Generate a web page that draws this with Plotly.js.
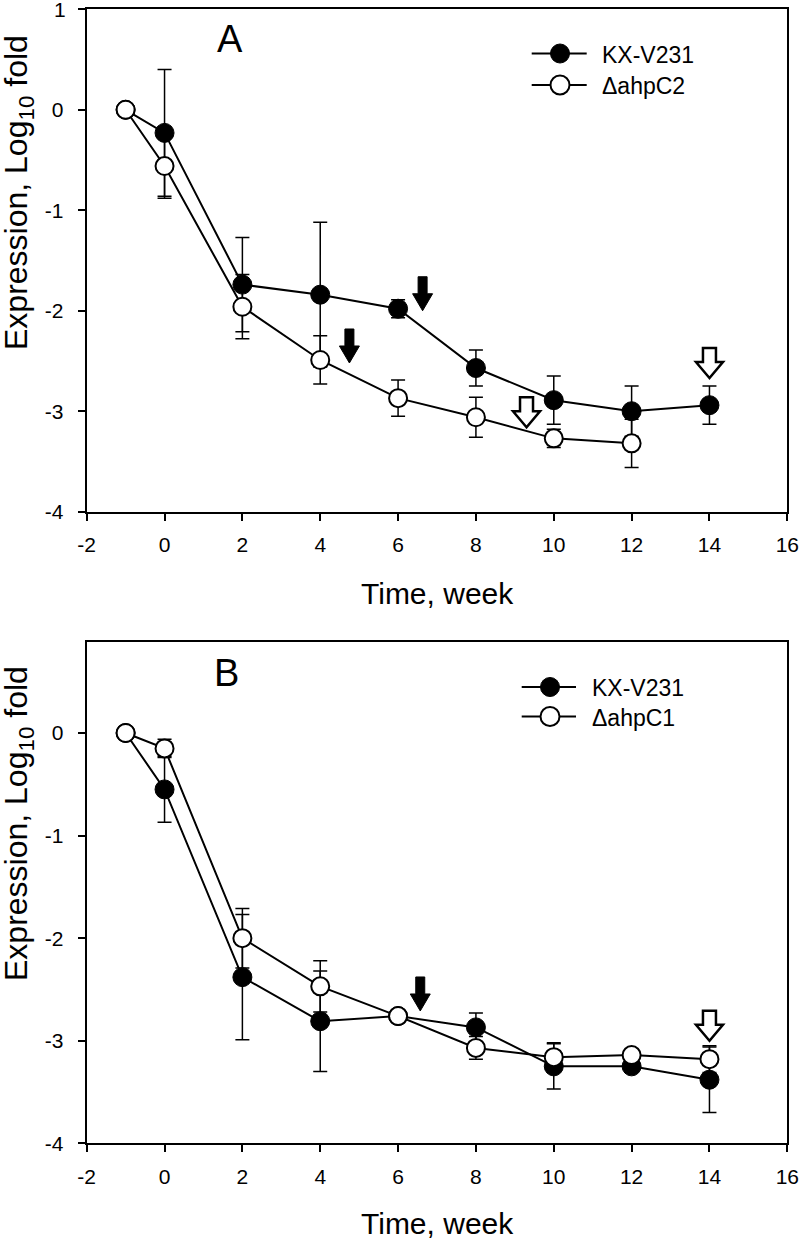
<!DOCTYPE html>
<html>
<head>
<meta charset="utf-8">
<script src="https://cdn.plot.ly/plotly-3.0.1.min.js"></script>
<style>html,body{margin:0;padding:0;background:#fff;}#chart{width:800px;height:1239px;}</style>
</head>
<body>
<div id="chart"></div>
<script>
// ---- data ----
const weeks = [-1, 0, 2, 4, 6, 8, 10, 12, 14];
const weeksA2 = [-1, 0, 2, 4, 6, 8, 10, 12];

const seriesA1Name = 'KX-V231';
const seriesA1 = [0, -0.23, -1.74, -1.84, -1.98, -2.57, -2.89, -3.00, -2.94];
const seriesA1Err = [0, 0.63, 0.47, 0.72, 0.09, 0.18, 0.24, 0.25, 0.19];

const seriesA2Name = '\u0394ahpC2';
const seriesA2 = [0, -0.56, -1.96, -2.49, -2.87, -3.06, -3.27, -3.32];
const seriesA2Err = [0, 0.32, 0.32, 0.24, 0.18, 0.20, 0.09, 0.24];

const seriesB1Name = 'KX-V231';
const seriesB1 = [0, -0.55, -2.38, -2.81, -2.76, -2.87, -3.25, -3.25, -3.38];
const seriesB1Err = [0, 0.32, 0.61, 0.49, 0, 0.14, 0.22, 0, 0.32];

const seriesB2Name = '\u0394ahpC1';
const seriesB2 = [0, -0.15, -2.00, -2.47, -2.76, -3.07, -3.16, -3.14, -3.18];
const seriesB2Err = [0, 0.09, 0.29, 0.25, 0, 0.11, 0.14, 0.03, 0.13];

// arrows: panel, x, tip y, style
const arrowPanel = ['A', 'A', 'A', 'A', 'B', 'B'];
const arrowX = [6.63, 4.75, 9.3, 14.0, 6.57, 14.0];
const arrowTipY = [-2.0, -2.52, -3.16, -2.67, -2.71, -3.0];
const arrowKind = ['solid', 'solid', 'hollow', 'hollow', 'solid', 'hollow'];

const panelLabels = ['A', 'B'];

const xTickVals = [-2, 0, 2, 4, 6, 8, 10, 12, 14, 16];
const xTickText = ['-2', '0', '2', '4', '6', '8', '10', '12', '14', '16'];
const yTickValsA = [-4, -3, -2, -1, 0, 1];
const yTickTextA = ['-4', '-3', '-2', '-1', '0', '1'];
const yTickValsB = [-4, -3, -2, -1, 0];
const yTickTextB = ['-4', '-3', '-2', '-1', '0'];

const xTitle = 'Time, week';
const yTitle = 'Expression, Log<sub>10</sub> fold';

// ---- styling ----
const FONT = 'Arial, Liberation Sans, sans-serif';
const W = 800, H = 1239;
const px = v => v / W;
const py = v => 1 - v / H;

function series(x, y, err, name, filled, xa, ya) {
  return {
    type: 'scatter', mode: 'lines+markers', x: x, y: y, name: name,
    xaxis: xa, yaxis: ya, showlegend: false,
    line: {color: '#000', width: 2},
    marker: {size: filled ? 19 : 18, color: filled ? '#000' : '#fff', line: {color: '#000', width: filled ? 1 : 2}},
    error_y: {type: 'data', array: err, symmetric: true, color: '#000', thickness: 1.5, width: 7}
  };
}

const traces = [
  series(weeks, seriesA1, seriesA1Err, seriesA1Name, true, 'x', 'y'),
  series(weeksA2, seriesA2, seriesA2Err, seriesA2Name, false, 'x', 'y'),
  series(weeks, seriesB1, seriesB1Err, seriesB1Name, true, 'x2', 'y2'),
  series(weeks, seriesB2, seriesB2Err, seriesB2Name, false, 'x2', 'y2')
];

const TICK_SIZE = 21;
const tickFont = {family: FONT, size: TICK_SIZE, color: '#000'};

function xAxis(anchor) {
  return {
    domain: [px(86.7), px(787.3)], range: [-2, 16], anchor: anchor,
    tickmode: 'array', tickvals: xTickVals, ticktext: xTickText,
    showline: true, mirror: true, linewidth: 2, linecolor: '#000',
    ticks: 'outside', ticklen: 7, tickwidth: 2, tickcolor: '#000',
    showgrid: false, zeroline: false,
    tickfont: tickFont, ticklabelstandoff: 6
  };
}
function yAxis(domain, range, tv, tt, anchor) {
  return {
    domain: domain, range: range, anchor: anchor,
    tickmode: 'array', tickvals: tv, ticktext: tt,
    showline: true, mirror: true, linewidth: 2, linecolor: '#000',
    ticks: 'outside', ticklen: 7, tickwidth: 2, tickcolor: '#000',
    showgrid: false, zeroline: false,
    tickfont: tickFont, ticklabelstandoff: 10
  };
}

const solidPath = 'M0,0 L-10,17 L-4.5,17 L-4.5,34 L4.5,34 L4.5,17 L10,17 Z';
const hollowPath = 'M0,0 L-13.5,16 L-6.5,16 L-6.5,30 L6.5,30 L6.5,16 L13.5,16 Z';

const shapes = arrowX.map((x, i) => ({
  type: 'path', layer: 'above',
  xref: arrowPanel[i] === 'A' ? 'x' : 'x2', yref: arrowPanel[i] === 'A' ? 'y' : 'y2',
  xsizemode: 'pixel', ysizemode: 'pixel', xanchor: x, yanchor: arrowTipY[i],
  path: arrowKind[i] === 'solid' ? solidPath : hollowPath,
  fillcolor: arrowKind[i] === 'solid' ? '#000' : '#fff',
  line: {color: '#000', width: arrowKind[i] === 'solid' ? 1 : 2.5}
}));

function ann(text, xref, yref, x, y, size, angle, xanchor) {
  return {text: text, xref: xref, yref: yref, x: x, y: y, xanchor: xanchor || 'center', yanchor: 'middle',
          textangle: angle || 0, showarrow: false, font: {family: FONT, size: size, color: '#000'}};
}

const annotations = [
  ann(panelLabels[0], 'x', 'y', 1.68, 0.70, 38),
  ann(panelLabels[1], 'x2', 'y2', 1.6, 0.58, 38),
  ann(xTitle, 'paper', 'paper', px(437), py(593), 30),
  ann(xTitle, 'paper', 'paper', px(437), py(1223), 30),
  ann(yTitle, 'paper', 'paper', px(19), py(193), 32, -90),
  ann(yTitle, 'paper', 'paper', px(19), py(824), 32, -90),
  // top tick label of panel A (Plotly hides labels that overflow the page edge)
  ann(yTickTextA[yTickTextA.length - 1], 'paper', 'y', px(68), yTickValsA[yTickValsA.length - 1], TICK_SIZE, 0, 'right')
];

// ---- legends (drawn with shapes + text) ----
const legendEntries = [
  {name: seriesA1Name, filled: true, lineX: [531.7, 586.7], mx: 560, tx: 600, y: 53.5},
  {name: seriesA2Name, filled: false, lineX: [531.7, 586.7], mx: 560, tx: 600, y: 85},
  {name: seriesB1Name, filled: true, lineX: [521.7, 576], mx: 550, tx: 589.5, y: 687},
  {name: seriesB2Name, filled: false, lineX: [521.7, 576], mx: 550, tx: 589.5, y: 716.5}
];
legendEntries.forEach(e => {
  shapes.push({type: 'line', xref: 'paper', yref: 'paper', x0: px(e.lineX[0]), x1: px(e.lineX[1]),
               y0: py(e.y), y1: py(e.y), line: {color: '#000', width: 2}});
  shapes.push({type: 'circle', xref: 'paper', yref: 'paper', xsizemode: 'pixel', ysizemode: 'pixel',
               xanchor: px(e.mx), yanchor: py(e.y), x0: -9.5, x1: 9.5, y0: -9.5, y1: 9.5,
               fillcolor: e.filled ? '#000' : '#fff', line: {color: '#000', width: e.filled ? 1 : 2}});
  annotations.push(ann(e.name, 'paper', 'paper', px(e.tx), py(e.y + 1), 23, 0, 'left'));
});

const layout = {
  width: W, height: H,
  margin: {l: 0, r: 0, t: 0, b: 0},
  paper_bgcolor: '#fff', plot_bgcolor: '#fff',
  font: {family: FONT, size: 20, color: '#000'},
  showlegend: false,
  xaxis: xAxis('y'),
  yaxis: yAxis([py(511.7), py(9.3)], [-4, 1], yTickValsA, yTickTextA, 'x'),
  xaxis2: xAxis('y2'),
  yaxis2: yAxis([py(1143.3), py(641.7)], [-4, 0.89], yTickValsB, yTickTextB, 'x2'),
  shapes: shapes,
  annotations: annotations
};

Plotly.newPlot('chart', traces, layout, {displayModeBar: false, staticPlot: true});
</script>
</body>
</html>
